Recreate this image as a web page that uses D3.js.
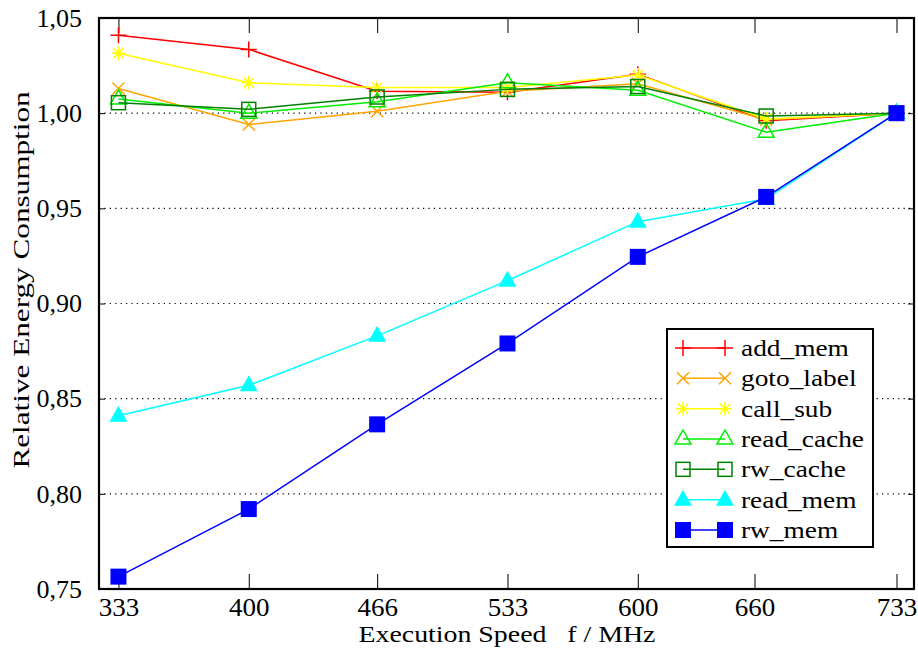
<!DOCTYPE html>
<html>
<head>
<meta charset="utf-8">
<script src="https://cdn.jsdelivr.net/npm/d3@7"></script>
<style>
  html, body { margin: 0; padding: 0; background: #fff; }
  svg { display: block; }
  svg text { font-family: "Liberation Serif", "Times New Roman", Tinos, "Nimbus Roman", "DejaVu Serif", serif !important; }
</style>
</head>
<body>
<svg id="chart" width="918" height="649"></svg>
<script>
// Clock frequencies at which each benchmark was measured (MHz)
const frequencies = [333, 400, 466, 533, 600, 666, 733];
// Tick labels on the frequency axis
const xTickValues = [333, 400, 466, 533, 600, 660, 733];
const yTickValues = [0.75, 0.80, 0.85, 0.90, 0.95, 1.00, 1.05];

// Energy relative to the 733 MHz run
const addMem     = [1.041, 1.0335, 1.0115, 1.011, 1.0205, 0.996, 1.000];
const gotoLabel  = [1.013, 0.994, 1.001, 1.0115, 1.0155, 0.9965, 1.000];
const callSub    = [1.0315, 1.016, 1.0135, 1.0135, 1.020, 0.997, 1.000];
const readCache  = [1.0075, 1.000, 1.006, 1.016, 1.012, 0.990, 1.000];
const rwCache    = [1.0055, 1.002, 1.0085, 1.0125, 1.014, 0.9985, 1.000];
const readMem    = [0.841, 0.857, 0.883, 0.912, 0.943, 0.955, 1.000];
const rwMem      = [0.7565, 0.792, 0.8365, 0.879, 0.9245, 0.956, 1.000];

const seriesNames  = ["add_mem", "goto_label", "call_sub", "read_cache", "rw_cache", "read_mem", "rw_mem"];
const seriesValues = [addMem, gotoLabel, callSub, readCache, rwCache, readMem, rwMem];
const seriesColors = ["#ff0000", "#ffa500", "#ffff00", "#00ee00", "#008000", "#00ffff", "#0000ff"];
const seriesMarkers = ["plus", "cross", "star", "triangle", "square", "triangleFilled", "squareFilled"];

const svg = d3.select("#chart");
const plotLeft = 99, plotRight = 914, plotTop = 18, plotBottom = 589;

const x = d3.scaleLinear().domain([323, 742]).range([plotLeft, plotRight]);
const y = d3.scaleLinear().domain([0.75, 1.05]).range([plotBottom, plotTop]);

// the serif face is set a little wider than its natural width
function widen(sel, factor) {
  sel.each(function () {
    const w = this.getComputedTextLength();
    d3.select(this).attr("textLength", w * factor).attr("lengthAdjust", "spacingAndGlyphs");
  });
}

// dotted horizontal grid
svg.append("g")
  .selectAll("line")
  .data(yTickValues.filter(v => v > 0.75 && v < 1.05))
  .join("line")
  .attr("x1", plotLeft).attr("x2", plotRight)
  .attr("y1", d => y(d)).attr("y2", d => y(d))
  .attr("stroke", "#000").attr("stroke-width", 1.2)
  .attr("stroke-dasharray", "1.2,4.2");

// inward ticks on all four sides
const tickLen = 15;
const fmt = d => d3.format(".2f")(d).replace(".", ",");
const xBottom = d3.axisBottom(x).tickValues(xTickValues).tickSizeInner(-tickLen).tickSizeOuter(0).tickPadding(9);
const xTop = d3.axisTop(x).tickValues(xTickValues).tickSizeInner(-tickLen).tickSizeOuter(0).tickFormat("");
const yLeft = d3.axisLeft(y).tickValues(yTickValues).tickSizeInner(-6).tickSizeOuter(0).tickFormat(fmt).tickPadding(17);
const yRight = d3.axisRight(y).tickValues(yTickValues).tickSizeInner(-6).tickSizeOuter(0).tickFormat("");

function styleAxis(g) {
  g.attr("font-family", null);
  g.select(".domain").remove();
  g.selectAll(".tick line").attr("stroke", "#000").attr("stroke-width", 1);
  g.selectAll(".tick text").attr("fill", "#000").attr("font-size", 26);
}
svg.append("g").attr("transform", `translate(0,${plotBottom})`).call(xBottom).call(styleAxis)
  .selectAll(".tick text").call(widen, 1.04);
svg.append("g").attr("transform", `translate(0,${plotTop})`).call(xTop).call(styleAxis);
svg.append("g").attr("transform", `translate(${plotLeft},0)`).call(yLeft).call(styleAxis);
svg.append("g").attr("transform", `translate(${plotRight},0)`).call(yRight).call(styleAxis);

// marker drawing
function drawMarker(g, kind, color, cx, cy) {
  const s = g.append("g").attr("transform", `translate(${cx},${cy})`);
  const sw = 1.5;
  if (kind === "plus") {
    s.append("path").attr("d", "M-8,0H8M0,-8V8").attr("stroke", color).attr("stroke-width", sw).attr("fill", "none");
  } else if (kind === "cross") {
    s.append("path").attr("d", "M-6,-6L6,6M-6,6L6,-6").attr("stroke", color).attr("stroke-width", sw).attr("fill", "none");
  } else if (kind === "star") {
    s.append("path").attr("d", "M-7,0H7M0,-7V7M-5,-5L5,5M-5,5L5,-5").attr("stroke", color).attr("stroke-width", sw).attr("fill", "none");
  } else if (kind === "triangle") {
    s.append("path").attr("d", "M0,-9L8,5H-8Z").attr("stroke", color).attr("stroke-width", sw).attr("fill", "none");
  } else if (kind === "square") {
    s.append("rect").attr("x", -7).attr("y", -7).attr("width", 14).attr("height", 14).attr("stroke", color).attr("stroke-width", sw).attr("fill", "none");
  } else if (kind === "triangleFilled") {
    s.append("path").attr("d", "M0,-10L9,6H-9Z").attr("fill", color);
  } else if (kind === "squareFilled") {
    s.append("rect").attr("x", -8).attr("y", -8).attr("width", 16).attr("height", 16).attr("fill", color);
  }
}

const line = d3.line().x((d, i) => x(frequencies[i])).y(d => y(d));
const plot = svg.append("g");
seriesValues.forEach((vals, k) => {
  const g = plot.append("g");
  g.append("path").attr("d", line(vals)).attr("fill", "none")
    .attr("stroke", seriesColors[k]).attr("stroke-width", 1.5);
  vals.forEach((v, i) => drawMarker(g, seriesMarkers[k], seriesColors[k], x(frequencies[i]), y(v)));
});

// frame
svg.append("rect").attr("x", plotLeft).attr("y", plotTop).attr("width", plotRight - plotLeft).attr("height", plotBottom - plotTop)
  .attr("fill", "none").attr("stroke", "#000").attr("stroke-width", 2.2);

// legend
const lg = svg.append("g");
const lgX = 667, lgY = 329, lgW = 206, lgH = 218;
lg.append("rect").attr("x", lgX).attr("y", lgY).attr("width", lgW).attr("height", lgH)
  .attr("fill", "#fff").attr("stroke", "#000").attr("stroke-width", 2);
const rowY = d3.scalePoint().domain(seriesNames).range([lgY + 19, lgY + 201]);
seriesNames.forEach((name, k) => {
  const ry = rowY(name);
  lg.append("line").attr("x1", 683).attr("x2", 725).attr("y1", ry).attr("y2", ry)
    .attr("stroke", seriesColors[k]).attr("stroke-width", 1.5);
  drawMarker(lg, seriesMarkers[k], seriesColors[k], 683, ry);
  drawMarker(lg, seriesMarkers[k], seriesColors[k], 725, ry);
  lg.append("text").attr("x", 741).attr("y", ry + 8).attr("font-size", 24).attr("fill", "#000").text(name)
    .call(widen, 1.14);
});

// axis titles
svg.append("text").attr("x", 507).attr("y", 642).attr("text-anchor", "middle")
  .attr("font-size", 24).attr("fill", "#000").attr("xml:space", "preserve")
  .text("Execution Speed   f / MHz").call(widen, 1.16);
svg.append("text").attr("transform", "translate(29,280) rotate(-90)").attr("text-anchor", "middle")
  .attr("font-size", 24).attr("fill", "#000").text("Relative Energy Consumption").call(widen, 1.3);
</script>
</body>
</html>
